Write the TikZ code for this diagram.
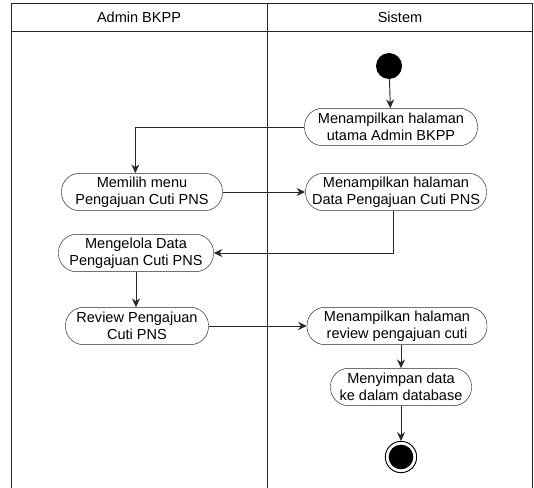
\documentclass[tikz,border=0pt]{standalone}
\usepackage{fontspec}
\setmainfont{Liberation Sans}
\usetikzlibrary{arrows.meta,positioning}
\tikzset{
  aksi/.style={
    rounded corners=5.4mm,
    draw=black!85,
    fill=white,
    align=center,
    minimum height=1.12cm,
    inner sep=1pt,
    font=\fontsize{12.4}{14.4}\selectfont
  },
  mulai/.style={
    circle,
    fill=black,
    minimum size=0.78cm,
    inner sep=0pt
  },
  akhir/.style={
    circle,
    draw=black,
    thick,
    fill=white,
    minimum size=0.94cm,
    inner sep=0pt,
    path picture={\fill[black] (path picture bounding box.center) circle (0.37cm);}
  },
  judul/.style={
    font=\fontsize{12.4}{14.4}\selectfont
  },
  panah/.style={
    -{Stealth[length=2.6mm,width=2.4mm]},
    thick,
    black!85
  }
}

\begin{document}
\begin{tikzpicture}[x=0.03cm,y=-0.03cm]
\useasboundingbox (0,0) rectangle (534,488);
% swimlane
\draw[thick,black!85] (11,488) -- (11,3) -- (532,3) -- (532,488);
\draw[thick,black!85] (11,31) -- (532,31);
\draw[thick,black!85] (267,3) -- (267,488);
\node[judul] (lane1) at (139,17) {Admin BKPP};
\node[judul] (lane2) at (400,17) {Sistem};

\node[mulai] (start) at (389,66) {};
\node[aksi,minimum width=5.19cm] (utama) at (391,127) {Menampilkan halaman\\utama Admin BKPP};
\node[aksi,minimum width=4.83cm] (memilih) at (142,192) {Memilih menu\\Pengajuan Cuti PNS};
\node[aksi,minimum width=5.43cm] (data) at (396,192) {Menampilkan halaman\\Data Pengajuan Cuti PNS};
\node[aksi,minimum width=4.65cm] (kelola) at (136,253) {Mengelola Data\\Pengajuan Cuti PNS};
\node[aksi,minimum width=4.29cm] (review) at (137,326) {Review Pengajuan\\Cuti PNS};
\node[aksi,minimum width=5.4cm] (tampilreview) at (397,326) {Menampilkan halaman\\review pengajuan cuti};
\node[aksi,minimum width=4.23cm] (simpan) at (401,387) {Menyimpan data\\ke dalam database};
\node[akhir] (selesai) at (401,457) {};

\draw[panah] (start) -- (utama);
\draw[panah] (utama.west) -| ([xshift=-0.2cm]memilih.north);
\draw[panah] (memilih) -- (data);
\draw[panah] ([xshift=-0.09cm]data.south) |- (kelola.east);
\draw[panah] (kelola) -- (kelola |- review.north);
\draw[panah] (review) -- (tampilreview);
\draw[panah] (tampilreview.south -| simpan.north) -- (simpan.north);
\draw[panah] (simpan) -- (selesai);
\end{tikzpicture}
\end{document}
